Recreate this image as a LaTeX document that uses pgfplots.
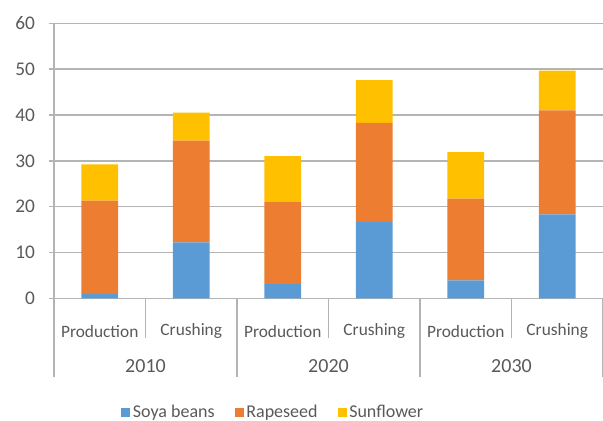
\documentclass[border=0pt]{standalone}
\usepackage{fontspec}
\setmainfont{Carlito}
\usepackage{pgfplots}
\pgfplotsset{compat=1.18}
\definecolor{soya}{HTML}{5B9BD5}
\definecolor{rape}{HTML}{ED7D31}
\definecolor{sunf}{HTML}{FFC000}
\definecolor{txt}{HTML}{595959}
\definecolor{grd}{HTML}{B4B4B4}
\begin{document}
\begin{tikzpicture}
\path[use as bounding box] (0,0) rectangle (452.25pt,315.75pt);
\begin{axis}[
  at={(40.5pt,92pt)}, anchor=south west,
  scale only axis, width=411.75pt, height=206.25pt,
  ybar stacked, bar width=0.4,
  xmin=-0.5, xmax=5.5, ymin=0, ymax=60,
  ytick={0,10,...,60},
  xtick={0,...,5},
  xticklabels={Production,Crushing,Production,Crushing,Production,Crushing},
  axis x line*=bottom, axis y line*=left,
  axis line style={grd, line width=1.2pt},
  ymajorgrids, grid style={grd, line width=1.2pt},
  x tick style={draw=none},
  y tick style={grd, line width=1.2pt},
  tick align=outside, major tick length=3.75pt,
  /pgf/number format/assume math mode=true,
  font=\fontsize{13}{15}\selectfont,
  every tick label/.append style={text=txt},
  xticklabel style={anchor=center, yshift=-21pt},
  yticklabel style={anchor=east, xshift=-7pt, font=\fontsize{14.5}{16}\selectfont},
  clip=false,
  legend style={at={(0.40,-0.415)}, anchor=center, draw=none, fill=none,
    legend columns=-1, text=txt, font=\fontsize{13.5}{15}\selectfont,
    /tikz/every even column/.append style={column sep=13pt}},
  legend image code/.code={\fill[#1,draw=none] (0pt,-3.4pt) rectangle (6.75pt,3.4pt);},
]
\addplot[fill=soya, draw=none] coordinates {(0,0.9) (1,12.2) (2,3.1) (3,16.6) (4,3.9) (5,18.3)};
\addplot[fill=rape, draw=none] coordinates {(0,20.4) (1,22.2) (2,17.9) (3,21.7) (4,17.85) (5,22.7)};
\addplot[fill=sunf, draw=none] coordinates {(0,7.95) (1,6.1) (2,10.0) (3,9.3) (4,10.15) (5,8.7)};
\legend{Soya beans,Rapeseed,Sunflower}
\draw[grd, line width=1.2pt] (axis cs:0.5,0) -- ([yshift=-30pt]axis cs:0.5,0);
\draw[grd, line width=1.2pt] (axis cs:2.5,0) -- ([yshift=-30pt]axis cs:2.5,0);
\draw[grd, line width=1.2pt] (axis cs:4.5,0) -- ([yshift=-30pt]axis cs:4.5,0);
\draw[grd, line width=1.2pt] (axis cs:-0.5,0) -- ([yshift=-59.25pt]axis cs:-0.5,0);
\draw[grd, line width=1.2pt] (axis cs:1.5,0) -- ([yshift=-59.25pt]axis cs:1.5,0);
\draw[grd, line width=1.2pt] (axis cs:3.5,0) -- ([yshift=-59.25pt]axis cs:3.5,0);
\draw[grd, line width=1.2pt] (axis cs:5.5,0) -- ([yshift=-59.25pt]axis cs:5.5,0);
\node[text=txt, font=\fontsize{15}{17}\selectfont] at (axis cs:0.5,0) [yshift=-51pt] {2010};
\node[text=txt, font=\fontsize{15}{17}\selectfont] at (axis cs:2.5,0) [yshift=-51pt] {2020};
\node[text=txt, font=\fontsize{15}{17}\selectfont] at (axis cs:4.5,0) [yshift=-51pt] {2030};
\end{axis}
\end{tikzpicture}
\end{document}
